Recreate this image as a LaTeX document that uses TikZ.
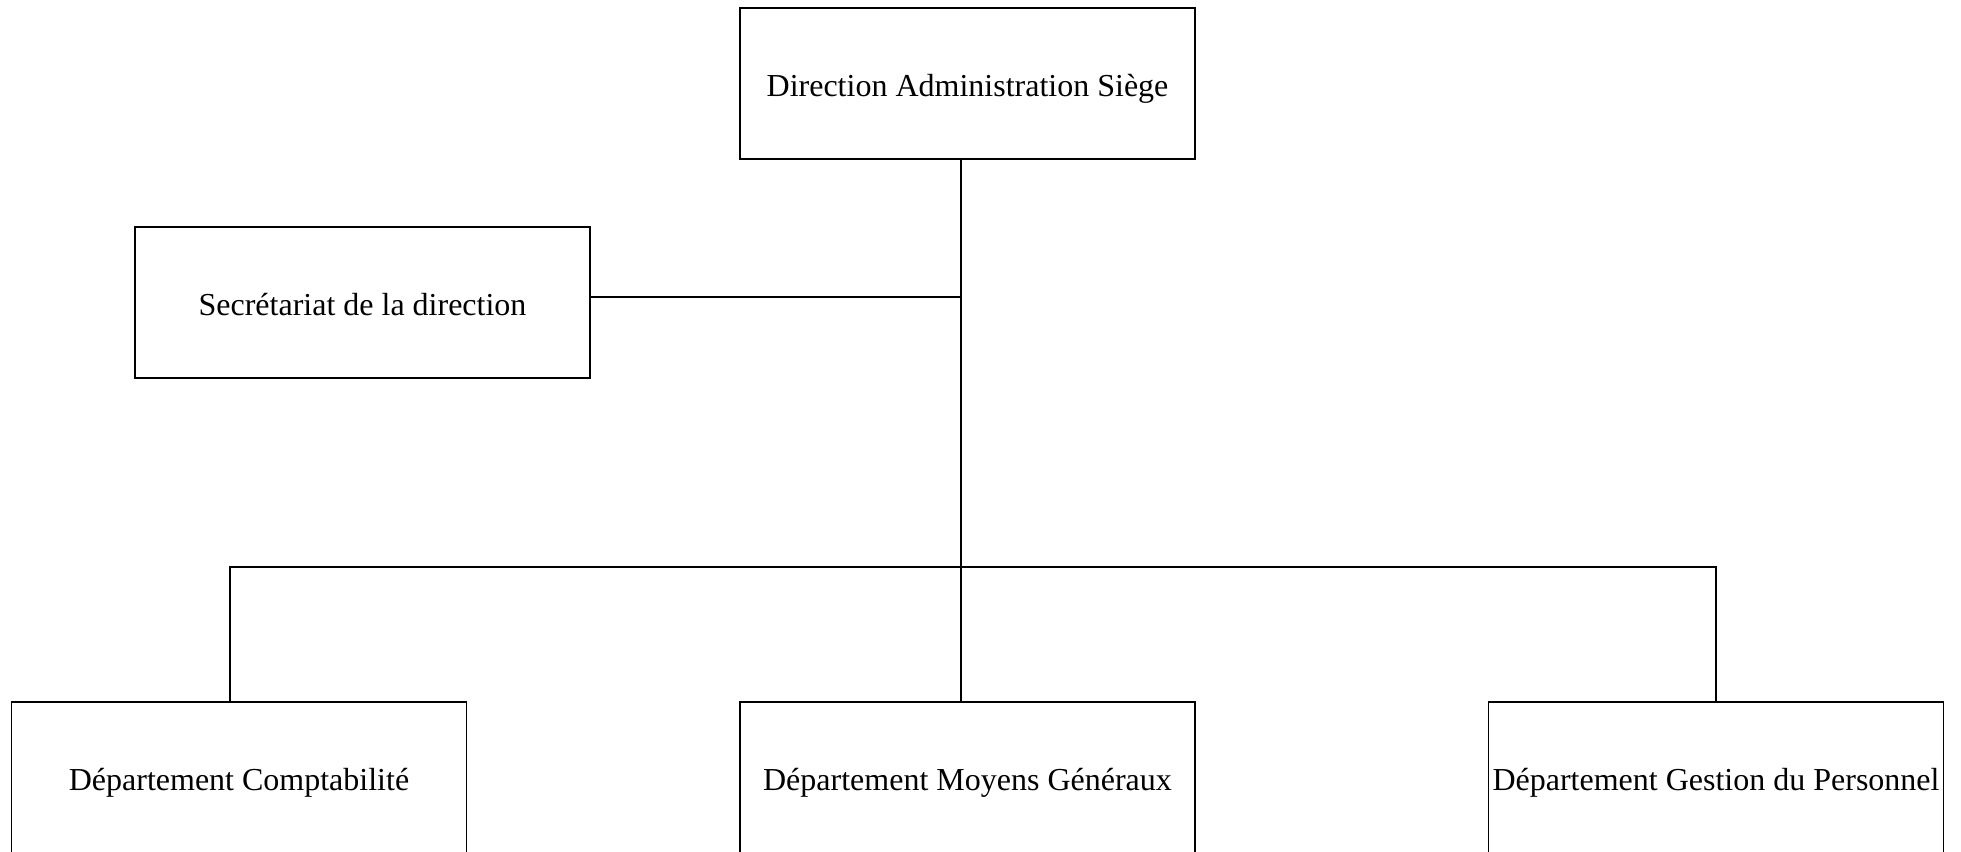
\documentclass[tikz,border=0pt]{standalone}
\usepackage{fontspec}
\setmainfont{Liberation Serif}
\begin{document}
\begin{tikzpicture}[x=1pt,y=-1pt,
  unit/.style={draw, line width=1.8pt, rectangle, inner sep=0pt,
    minimum width=455pt, minimum height=151pt,
    text height=25pt, text depth=0pt,
    font=\fontsize{32}{38}\selectfont},
  link/.style={line width=1.8pt}]
  \useasboundingbox (0,0) rectangle (1961,851);
  % boxes
  \node[unit] (dir)  at (967.5,83.5)  {Direction Administration Siège};
  \node[unit] (sec)  at (362.5,302.5) {Secrétariat de la direction};
  \node[unit] (comp) at (239,777.5)   {Département Comptabilité};
  \node[unit] (moy)  at (967.5,777.5) {Département Moyens Généraux};
  \node[unit] (pers) at (1716,777.5)  {Département Gestion du Personnel};
  % connector points
  \coordinate (stem) at (961,159);
  \coordinate (mid)  at (961,297);
  \coordinate (bus)  at (961,567);
  \coordinate (cdrop) at (230,702);
  \coordinate (mdrop) at (961,702);
  % connectors
  \draw[link] (stem) -- (mdrop);
  \draw[link] (sec.east |- mid) -- (mid);
  \draw[link] (cdrop) |- (bus) -| (pers.north);
\end{tikzpicture}
\end{document}
